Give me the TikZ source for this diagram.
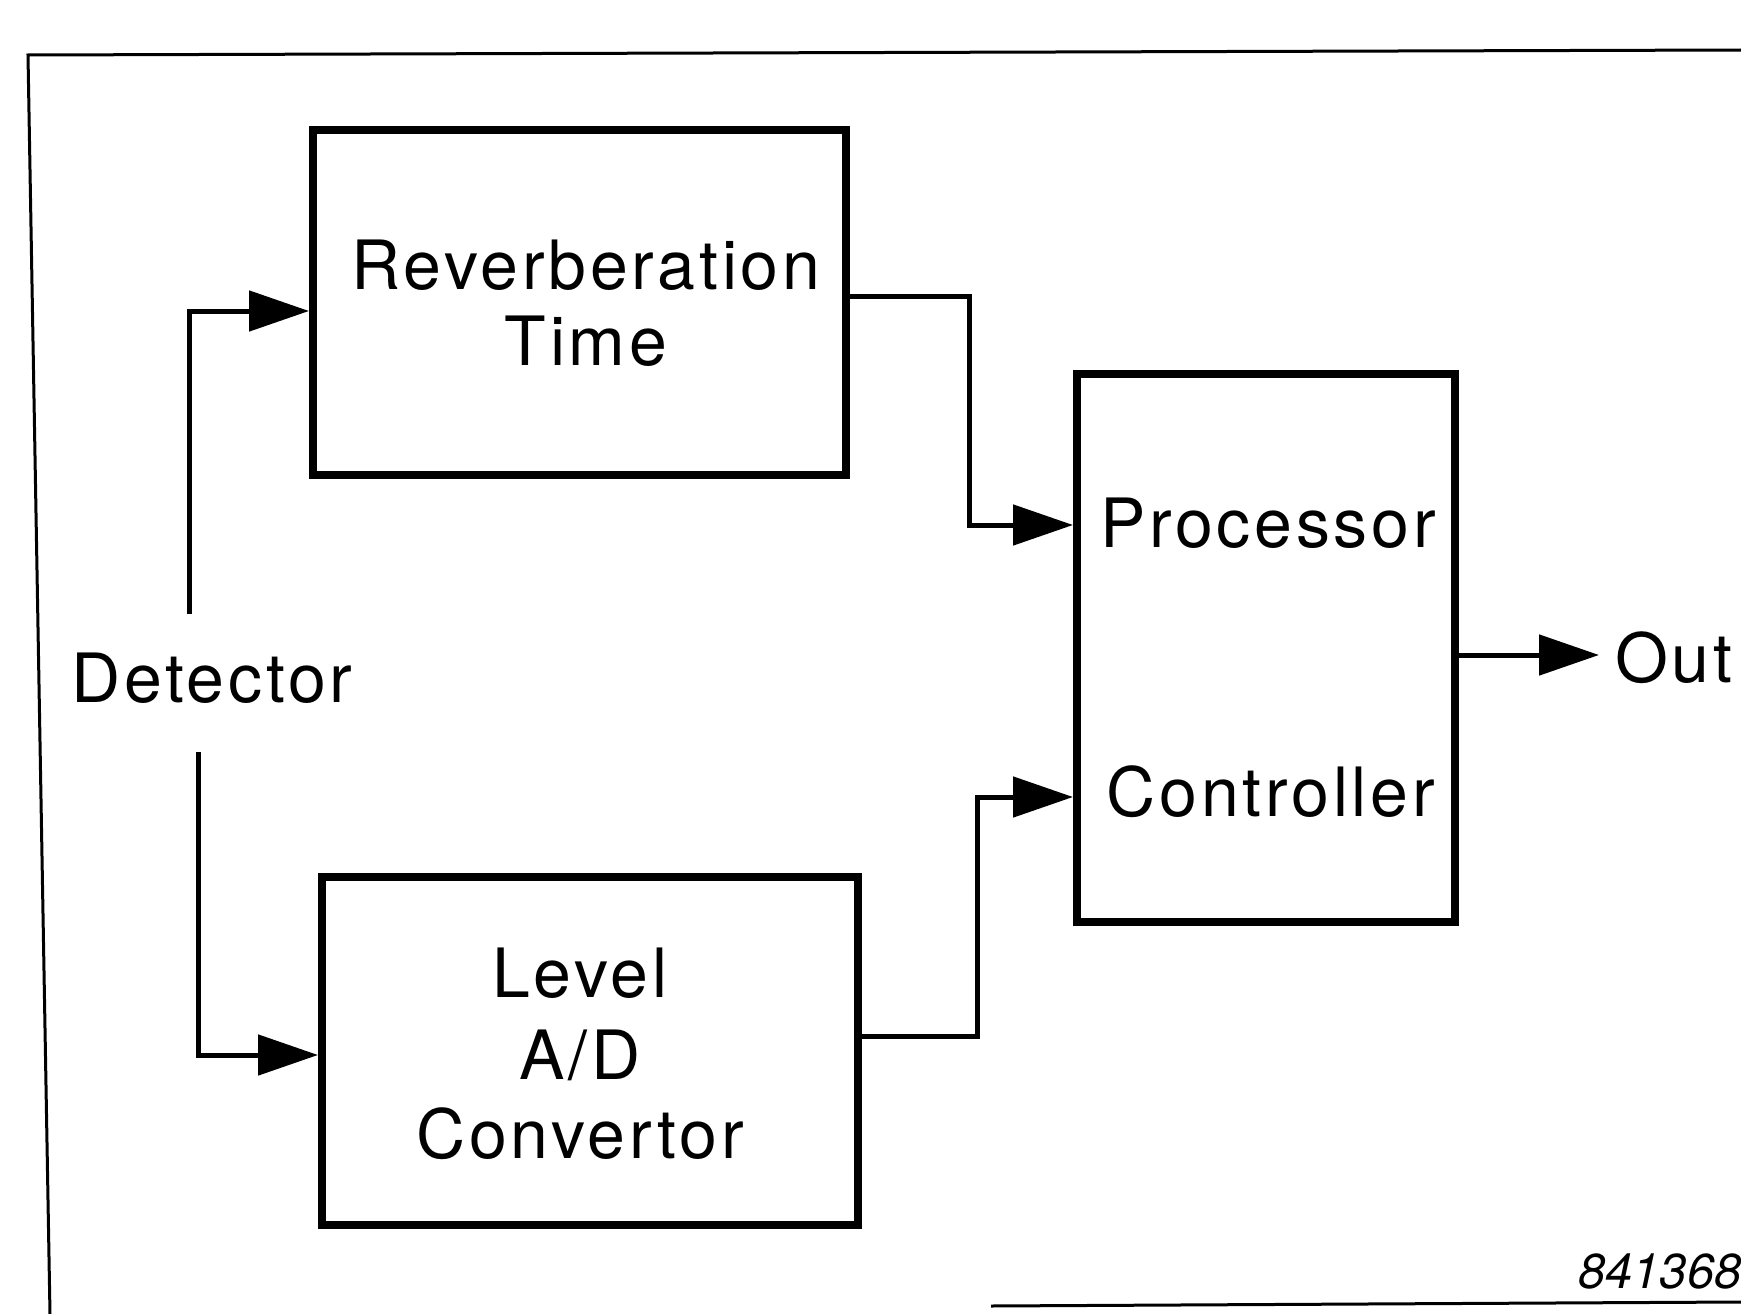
\documentclass[tikz,border=0pt]{standalone}
\usepackage{fontspec}
\setmainfont{TeX Gyre Heros}[LetterSpace=5.5]
\newfontfamily\numfont{TeX Gyre Heros}
\usetikzlibrary{arrows.meta}
\tikzset{
  blockbox/.style={draw=black, line width=8pt, inner sep=0pt, minimum width=#1},
  conn/.style={draw=black, line width=5pt, -{Triangle[length=60pt,width=40pt]}},
  wire/.style={draw=black, line width=5pt},
  framel/.style={draw=black, line width=3pt},
  lbl/.style={inner sep=0pt, anchor=base, font=\fontsize{68}{76}\selectfont},
}
\begin{document}
\begin{tikzpicture}[x=1pt, y=-1pt]
\useasboundingbox[fill=white] (0,0) rectangle (1741,1314);
% frame
\draw[framel] (1741,50) -- (28,55) -- (50,1314);
\draw[framel] (991,1306) -- (1741,1302);
% boxes
\node[blockbox=533pt, minimum height=345pt] (rt) at (579.5,302.5) {};
\node[blockbox=378pt, minimum height=548pt] (pc) at (1266,648) {};
\node[blockbox=536pt, minimum height=348pt] (lv) at (590,1051) {};
% texts
\node[lbl] (t1) at (586,289) {Reverberation};
\node[lbl] (t2) at (586,365) {Time};
\node[lbl] (t3) at (1268,547) {Processor};
\node[lbl] (t4) at (1271,816) {Controller};
\node[lbl] (t5) at (580,997) {Level};
\node[lbl] (t6) at (580,1079) {A/D};
\node[lbl] (t7) at (580,1158) {Convertor};
\node[lbl] (det) at (212,702) {Detector};
\node[lbl, anchor=base west, inner xsep=16pt] (out) at (1599,682) {Out};
\node[inner sep=0pt, anchor=base west, font=\numfont\itshape\fontsize{49}{55}\selectfont] (num) at (1578,1288) {841368};
% connectors
\coordinate (d1) at (189,614);
\coordinate (d2) at (198,752);
\coordinate (p1) at (969,525);
\coordinate (p2) at (977,797);
\draw[conn] (d1) |- ([yshift=-8.5pt]rt.west);
\draw[conn] (d2) |- ([yshift=-4pt]lv.west);
\draw[conn] ([yshift=6.5pt]rt.east) -| (p1) -- (p1 -| pc.west);
\draw[conn] ([yshift=15pt]lv.east) -| (p2) -- (p2 -| pc.west);
\draw[conn] ([yshift=-7pt]pc.east) -- ([yshift=-7pt]pc.east -| out.west);
\end{tikzpicture}
\end{document}
